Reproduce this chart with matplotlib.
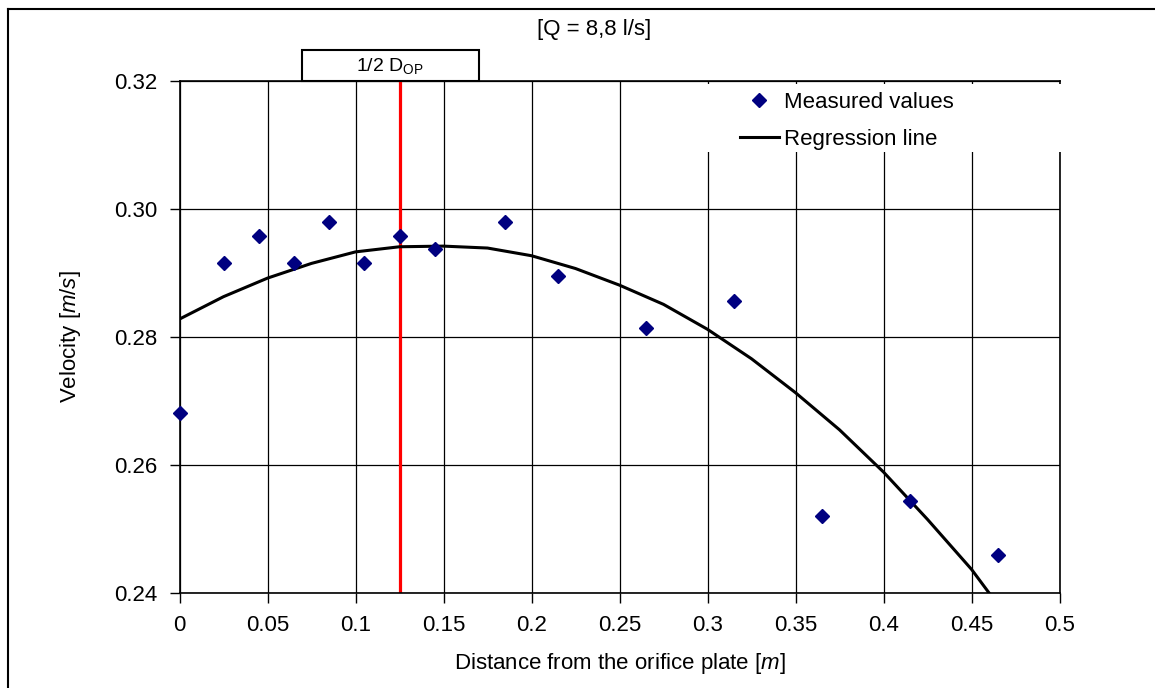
import numpy as np
import matplotlib.pyplot as plt
from matplotlib.patches import Rectangle
from matplotlib.lines import Line2D

plt.rcParams['font.family'] = ['Liberation Sans', 'DejaVu Sans']
plt.rcParams['mathtext.fontset'] = 'custom'
plt.rcParams['mathtext.rm'] = 'Liberation Sans'
plt.rcParams['mathtext.it'] = 'Liberation Sans:italic'

# measured velocities
dist = [0, 0.025, 0.045, 0.065, 0.085, 0.105, 0.125, 0.145,
        0.185, 0.215, 0.265, 0.315, 0.365, 0.415, 0.465]
velocity = [0.2681, 0.2916, 0.2958, 0.2916, 0.2979, 0.2916, 0.2958, 0.2937,
            0.2979, 0.2895, 0.2814, 0.2856, 0.2520, 0.2544, 0.2459]

# regression line
reg_x = [0, 0.025, 0.05, 0.075, 0.1, 0.125, 0.15, 0.175, 0.2, 0.225,
         0.25, 0.275, 0.3, 0.325, 0.35, 0.375, 0.4, 0.425, 0.45, 0.46]
reg_y = [0.2828, 0.2863, 0.2892, 0.2915, 0.2933, 0.2941, 0.2942, 0.2939,
         0.2927, 0.2907, 0.2881, 0.2851, 0.2812, 0.2766, 0.2713, 0.2655,
         0.2589, 0.2515, 0.2437, 0.2400]

half_dop = 0.125
xticks = [0, 0.05, 0.1, 0.15, 0.2, 0.25, 0.3, 0.35, 0.4, 0.45, 0.5]
xtick_labels = ['0', '0.05', '0.1', '0.15', '0.2', '0.25', '0.3', '0.35',
                '0.4', '0.45', '0.5']
yticks = [0.24, 0.26, 0.28, 0.30, 0.32]

W, H = 1155, 688
fig = plt.figure(figsize=(W / 100, H / 100), dpi=100)
ax = fig.add_axes([179.5 / W, 1 - 593 / H, 880 / W, 512 / H])

ax.set_xlim(0, 0.5)
ax.set_ylim(0.24, 0.32)
ax.set_xticks(xticks)
ax.set_xticklabels(xtick_labels)
ax.set_yticks(yticks)
ax.set_yticklabels(['%.2f' % v for v in yticks])
ax.tick_params(direction='out', length=7, width=1, labelsize=16, pad=9)
ax.grid(True, color='black', linewidth=0.9)
ax.set_axisbelow(True)
for side in ['left', 'top', 'right', 'bottom']:
    ax.spines[side].set_linewidth(1.2)

ax.axvline(half_dop, color='red', linewidth=2.3, zorder=2)
ax.plot(reg_x, reg_y, color='black', linewidth=2.2, zorder=3)
ax.plot(dist, velocity, linestyle='none', marker='D', markersize=7.5,
        color='#000080', zorder=4, clip_on=False)

# white area behind the legend hides grid and right spine there
fig.patches.append(Rectangle((706 / W, 1 - 152 / H), 360 / W, 68 / H,
                             transform=fig.transFigure, facecolor='white',
                             edgecolor='none', zorder=1))
ax.set_zorder(0)
ax.patch.set_visible(False)

handles = [Line2D([], [], linestyle='none', marker='D', markersize=7.5, color='#000080'),
           Line2D([], [], color='black', linewidth=2.2)]
leg = fig.legend(handles, ['Measured values', 'Regression line'], loc='upper left',
                 bbox_to_anchor=(740 / W, 1 - 92 / H), fontsize=16, frameon=False,
                 borderpad=0, borderaxespad=0, handlelength=1.75,
                 handletextpad=0.25, labelspacing=0.72)
leg.set_zorder(5)

ax.set_xlabel('Distance from the orifice plate [$\\it{m}$]', fontsize=16, labelpad=11)
ax.set_ylabel('Velocity [$\\it{m/s}$]', fontsize=16, labelpad=22)

fig.text(594 / W, 1 - 29 / H, '[Q = 8,8 l/s]', fontsize=16, ha='center', va='center')

# box with the 1/2 D_OP label
fig.patches.append(Rectangle((302 / W, 1 - 81 / H), 177 / W, 31 / H,
                             transform=fig.transFigure, facecolor='white',
                             edgecolor='black', linewidth=1.5, zorder=6))
fig.text(390 / W, 1 - 66 / H, '1/2 D$_{\\mathrm{OP}}$', fontsize=14,
         ha='center', va='center', zorder=7)

# outer chart frame (left and top edges)
fig.lines.append(Line2D([8 / W, 8 / W], [0, 1 - 9 / H], transform=fig.transFigure,
                        color='black', linewidth=1.5))
fig.lines.append(Line2D([8 / W, 1], [1 - 9 / H, 1 - 9 / H], transform=fig.transFigure,
                        color='black', linewidth=1.5))

fig.savefig('out.png', dpi=100)
